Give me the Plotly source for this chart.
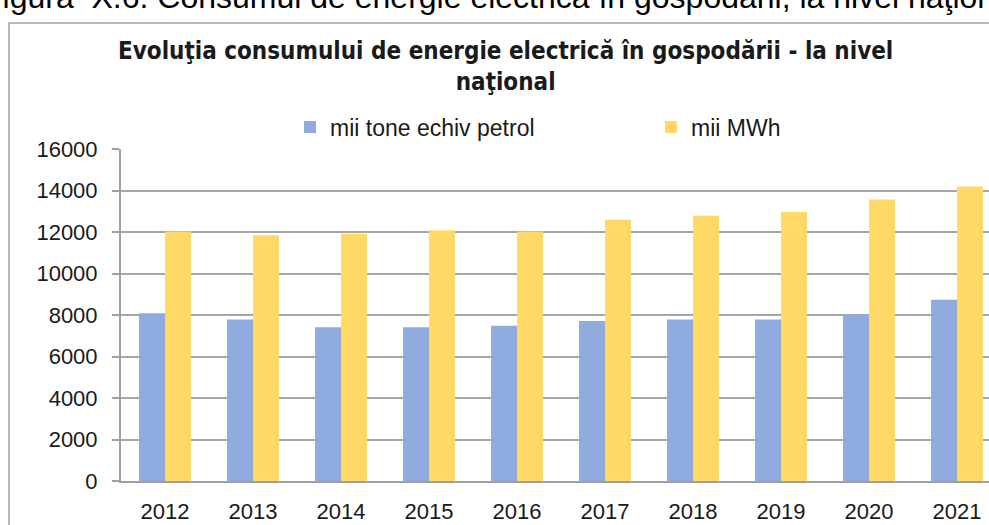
import plotly.graph_objects as go

years = ["2012", "2013", "2014", "2015", "2016", "2017", "2018", "2019", "2020", "2021"]
mii_tep = [8080, 7780, 7410, 7410, 7480, 7710, 7780, 7780, 8020, 8740]
mii_mwh = [12020, 11840, 11910, 12090, 12030, 12590, 12780, 12960, 13570, 14190]
y_ticks = [0, 2000, 4000, 6000, 8000, 10000, 12000, 14000, 16000]

W, H = 989, 525
ML, MR, MT, MB = 121, 0, 149, 44
PW = W - ML - MR
PH = H - MT - MB

def px(x):
    return (x - ML) / PW

def py(y):
    return (H - MB - y) / PH

FONT = "Liberation Sans, Arial"

fig = go.Figure()
fig.add_trace(go.Bar(x=years, y=mii_tep, name="mii tone echiv petrol", legend="legend",
                     marker=dict(color="#8FAADC", line=dict(width=0))))
fig.add_trace(go.Bar(x=years, y=mii_mwh, name="mii MWh", legend="legend2",
                     marker=dict(color="#FFD966", line=dict(width=0))))

leg_common = dict(orientation="h", yanchor="middle", xanchor="left",
                  font=dict(size=23, family=FONT, color="#1a1a1a"),
                  bgcolor="rgba(0,0,0,0)", itemclick=False, itemdoubleclick=False)

fig.update_layout(
    width=W, height=H,
    margin=dict(l=ML, r=MR, t=MT, b=MB, pad=0, autoexpand=False),
    paper_bgcolor="white", plot_bgcolor="white",
    barmode="group", bargap=0.41, bargroupgap=0,
    font=dict(family=FONT, color="#1a1a1a"),
    showlegend=True,
    legend=dict(x=px(290), y=py(127), **leg_common),
    legend2=dict(x=px(651), y=py(127), **leg_common),
    xaxis=dict(type="category", range=[-0.5, 9.5 - 12 / 88], showgrid=False,
               showline=True, linecolor="#a0a0a0", linewidth=2, ticks="",
               tickfont=dict(size=22, family=FONT, color="#1a1a1a"),
               ticklabelstandoff=10),
    yaxis=dict(range=[0, 16000], tickvals=y_ticks, ticktext=[str(v) for v in y_ticks],
               showgrid=True, gridcolor="#a6a6a6", gridwidth=1.5,
               showline=True, linecolor="#a0a0a0", linewidth=2,
               ticks="outside", ticklen=7, tickcolor="#a0a0a0", tickwidth=1.5,
               tickfont=dict(size=22, family=FONT, color="#1a1a1a"),
               ticklabelstandoff=10, zeroline=False),
)

fig.add_annotation(
    text="<b>Evoluţia consumului de energie electrică în gospodării - la nivel<br>naţional</b>",
    xref="paper", yref="paper", x=px(505), y=py(66), xanchor="center", yanchor="middle",
    showarrow=False, align="center",
    font=dict(size=24, family="Liberation Sans Narrow, DejaVu Sans Condensed, Arial", color="#1a1a1a"),
)

fig.add_annotation(
    text="Figura  X.6. Consumul de energie electrică în gospodării, la nivel naţional",
    xref="paper", yref="paper", x=px(-19), y=py(17), xanchor="left", yanchor="bottom",
    showarrow=False, font=dict(size=32, family=FONT, color="#000000"),
)

fig.add_shape(type="rect", xref="paper", yref="paper",
              x0=px(9), x1=px(1100), y0=py(600), y1=py(23),
              line=dict(color="#a0a0a0", width=1.5), fillcolor="rgba(0,0,0,0)", layer="below")

fig.write_html("out.html", config={"displayModeBar": False},
               post_script="document.body.style.margin='0';")
